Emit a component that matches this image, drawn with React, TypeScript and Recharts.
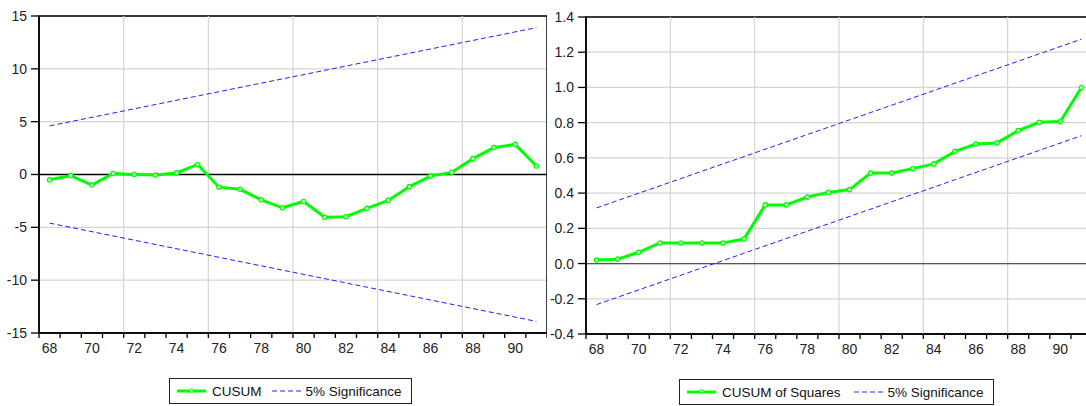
import React from 'react';
import { LineChart, Line, XAxis, YAxis, CartesianGrid, ReferenceLine, ReferenceArea } from 'recharts';

// ---- data ----
const years = [68, 69, 70, 71, 72, 73, 74, 75, 76, 77, 78, 79, 80, 81, 82, 83, 84, 85, 86, 87, 88, 89, 90, 91];
const cusum = [-0.5, -0.1, -1.0, 0.1, 0.0, -0.05, 0.15, 0.95, -1.2, -1.4, -2.4, -3.15, -2.55, -4.05, -4.0, -3.2, -2.45, -1.15, -0.15, 0.2, 1.5, 2.55, 2.85, 0.8];
const cusumSq = [0.02, 0.025, 0.064, 0.117, 0.117, 0.117, 0.117, 0.14, 0.333, 0.333, 0.378, 0.404, 0.42, 0.514, 0.514, 0.539, 0.566, 0.637, 0.679, 0.685, 0.755, 0.802, 0.807, 1.0];
const cusumUpperEnds = [4.6, 13.9];
const cusumLowerEnds = [-4.6, -13.9];
const sqUpperEnds = [0.316, 1.274];
const sqLowerEnds = [-0.233, 0.726];
const xTickLabels = ['68', '70', '72', '74', '76', '78', '80', '82', '84', '86', '88', '90'];
const gridYears = [72, 76, 80, 84, 88];
const cusumYTicks = [-15, -10, -5, 0, 5, 10, 15];
const sqYTicks = [-0.4, -0.2, 0, 0.2, 0.4, 0.6, 0.8, 1.0, 1.2, 1.4];

const FONT = '"Liberation Sans", Arial, Helvetica, sans-serif';
const GREEN = '#00ff00';
const BLUE = '#2020ff';
const GRID = '#d4d4d4';

const xMin = years[0] - 0.5;
const xMax = years[years.length - 1] + 0.5;
const boundaries = [...years.map((y) => y - 0.5), xMax];

const series = (vals: number[]) => years.map((x, i) => ({ x, y: vals[i] }));
const ends = (vals: number[]) => [
  { x: years[0], y: vals[0] },
  { x: years[years.length - 1], y: vals[1] },
];

const makeTick = (band: number) => (props: any) => {
  const { x, y, payload } = props;
  const label = String(Math.round(payload.value + 0.5));
  if (!xTickLabels.includes(label)) return <g />;
  return (
    <text x={x + band / 2} y={y} dy="0.71em" textAnchor="middle" fontSize={14} fill="#222" fontFamily={FONT}>
      {label}
    </text>
  );
};

type PanelProps = {
  width: number;
  height: number;
  top: number;
  values: number[];
  upper: number[];
  lower: number[];
  yTicks: number[];
  fmt: (v: number) => string;
  zeroColor: string;
};

const Panel = ({ width, height, top, values, upper, lower, yTicks, fmt, zeroColor }: PanelProps) => {
  const yAxisW = 39;
  const plotW = width - yAxisW;
  const band = plotW / years.length;
  const yMin = yTicks[0];
  const yMax = yTicks[yTicks.length - 1];
  return (
    <LineChart width={width} height={height} margin={{ top, right: 0, bottom: 0, left: 0 }}>
      <CartesianGrid vertical={false} stroke={GRID} strokeWidth={1.2} />
      {gridYears.map((g) => (
        <ReferenceLine key={g} x={g - 0.5} stroke={GRID} strokeWidth={1.2} />
      ))}
      <ReferenceLine y={0} stroke={zeroColor} strokeWidth={1.3} />
      <XAxis
        type="number"
        dataKey="x"
        domain={[xMin, xMax]}
        ticks={boundaries}
        interval={0}
        allowDataOverflow
        tickSize={5}
        tickMargin={5}
        tickLine={{ stroke: '#000', strokeWidth: 1.3 }}
        axisLine={{ stroke: '#000', strokeWidth: 1.5 }}
        tick={makeTick(band)}
        height={30}
      />
      <YAxis
        type="number"
        domain={[yMin, yMax]}
        ticks={yTicks}
        interval={0}
        allowDataOverflow
        tickFormatter={fmt}
        tickSize={8}
        tickMargin={4}
        width={yAxisW}
        tickLine={{ stroke: '#000', strokeWidth: 1.3 }}
        axisLine={{ stroke: '#000', strokeWidth: 1.5 }}
        tick={{ fontSize: 14, fill: '#222', fontFamily: FONT }}
      />
      <ReferenceArea x1={xMin} x2={xMax} y1={yMin} y2={yMax} fill="none" stroke="#000" strokeWidth={1.5} />
      <Line data={ends(upper)} dataKey="y" stroke={BLUE} strokeWidth={1} strokeDasharray="5 3" dot={false} isAnimationActive={false} />
      <Line data={ends(lower)} dataKey="y" stroke={BLUE} strokeWidth={1} strokeDasharray="5 3" dot={false} isAnimationActive={false} />
      <Line
        data={series(values)}
        dataKey="y"
        stroke={GREEN}
        strokeWidth={3}
        dot={{ r: 2.2, stroke: GREEN, strokeWidth: 1.2, fill: '#c8ffc8' }}
        isAnimationActive={false}
      />
    </LineChart>
  );
};

const LegendBox = ({ left, top, label, gap }: { left: number; top: number; label: string; gap: number }) => (
  <div
    style={{
      position: 'absolute',
      left,
      top,
      height: 24,
      border: '1px solid #222',
      background: '#fff',
      display: 'flex',
      alignItems: 'center',
      padding: '0 9px 0 7px',
      fontFamily: FONT,
      fontSize: 13.5,
      color: '#111',
      whiteSpace: 'nowrap',
    }}
  >
    <svg width={29} height={10} style={{ marginRight: 6 }}>
      <line x1={0} y1={5} x2={29} y2={5} stroke={GREEN} strokeWidth={3} />
      <circle cx={14.5} cy={4.5} r={1.8} fill="#c8ffc8" stroke={GREEN} strokeWidth={1} />
    </svg>
    <span>{label}</span>
    <svg width={29} height={10} style={{ marginLeft: gap, marginRight: 5 }}>
      <line x1={0} y1={5} x2={29} y2={5} stroke={BLUE} strokeWidth={1} strokeDasharray="5 3" />
    </svg>
    <span>5% Significance</span>
  </div>
);

export default function App() {
  return (
    <div
      style={{
        position: 'fixed',
        left: 0,
        top: 0,
        width: 1086,
        height: 406,
        overflow: 'hidden',
        background: '#fff',
      }}
    >
      <div style={{ position: 'absolute', left: 0, top: 0 }}>
        <Panel
          width={547}
          height={363}
          top={16}
          values={cusum}
          upper={cusumUpperEnds}
          lower={cusumLowerEnds}
          yTicks={cusumYTicks}
          fmt={(v) => String(v)}
          zeroColor="#000"
        />
      </div>
      <div style={{ position: 'absolute', left: 547, top: 0 }}>
        <Panel
          width={545}
          height={364}
          top={17}
          values={cusumSq}
          upper={sqUpperEnds}
          lower={sqLowerEnds}
          yTicks={sqYTicks}
          fmt={(v) => v.toFixed(1)}
          zeroColor="#555"
        />
      </div>
      <LegendBox left={169} top={378} label="CUSUM" gap={10} />
      <LegendBox left={679} top={379} label="CUSUM of Squares" gap={13} />
    </div>
  );
}
